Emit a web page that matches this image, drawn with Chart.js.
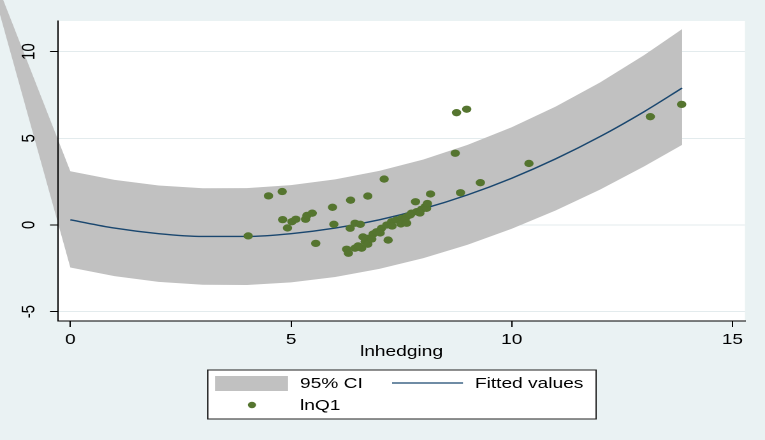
<!DOCTYPE html>
<html>
<head>
<meta charset="utf-8">
<script src="https://cdn.jsdelivr.net/npm/chart.js@4"></script>
<style>
  html, body { margin: 0; padding: 0; background: #eaf2f3; }
  #chart { display: block; }
</style>
</head>
<body>
<!-- the reference is a stretched export: draw at 600 wide, show at 765 -->
<canvas id="chart" width="600" height="440" style="width:765px;height:440px"></canvas>
<script>
// values
const xTicks = [0, 5, 10, 15];
const yTicks = [-5, 0, 5, 10];

// fitted quadratic and its 95% band
const fitX    = [0, 1, 2, 3, 4, 5, 6, 7, 8, 9, 10, 11, 12, 13, 13.86];
const fitY    = [0.30, -0.18, -0.50, -0.66, -0.66, -0.50, -0.18, 0.30, 0.94, 1.74, 2.70, 3.82, 5.10, 6.54, 7.90];
const ciUpper = [3.10, 2.60, 2.28, 2.12, 2.13, 2.30, 2.63, 3.12, 3.78, 4.62, 5.64, 6.84, 8.22, 9.80, 11.30];
const ciLower = [-2.45, -2.95, -3.28, -3.45, -3.46, -3.31, -3.00, -2.53, -1.91, -1.14, -0.22, 0.84, 2.04, 3.38, 4.62];
// the band in the original runs off to a stray vertex up and left
const ciTip = [-2.09, 16.68];

// scatter: lnhedging vs lnQ1
const lnhedging = [4.03, 4.49, 4.80, 4.81, 4.92, 5.02, 5.11, 5.33, 5.36, 5.48,
                   5.56, 5.94, 5.97, 6.35, 6.34, 6.45, 6.57, 6.74, 7.11, 6.26,
                   6.30, 6.45, 6.60, 6.68, 6.75, 6.74, 6.86, 6.94, 7.05, 7.17,
                   7.28, 7.39, 7.51, 7.62, 7.73, 7.85, 7.96, 8.04, 7.20, 7.82,
                   8.16, 8.07, 8.09, 8.72, 8.75, 8.98, 8.84, 9.29, 10.39, 13.14,
                   13.85, 7.58, 7.70, 6.52, 6.83, 7.02, 7.29, 7.49, 6.63, 7.92, 7.62];
const lnQ1 = [-0.63, 1.68, 1.93, 0.31, -0.17, 0.19, 0.33, 0.33, 0.55, 0.68,
              -1.06, 1.02, 0.04, 1.43, -0.19, 0.10, 0.04, 1.67, 2.65, -1.40,
              -1.63, -1.34, -1.34, -0.96, -0.77, -1.11, -0.52, -0.39, -0.19, 0.00,
              0.19, 0.29, 0.39, 0.48, 0.68, 0.77, 0.91, 1.06, -0.87, 1.34,
              1.79, 0.96, 1.24, 4.14, 6.48, 6.68, 1.86, 2.44, 3.55, 6.25,
              6.96, 0.29, 0.58, -1.21, -0.81, -0.46, -0.06, 0.06, -0.69, 0.69, 0.10];

const BG = '#eaf2f3';
const BAND = '#c1c1c1';
const NAVY = '#1a476f';
const GREEN = '#55752f';
const FONT = "'Liberation Sans', Arial, sans-serif";

const tip = { x: ciTip[0], y: ciTip[1] };
const bandPoints = [tip]
    .concat(fitX.map((x, i) => ({ x, y: ciUpper[i] })))
    .concat(fitX.map((x, i) => ({ x, y: ciLower[i] })).reverse())
    .concat([tip]);

// plot region fill + stata-style legend box
const frame = {
    id: 'frame',
    beforeDraw(chart) {
        const { ctx, chartArea: a } = chart;
        ctx.save();
        ctx.fillStyle = BG;
        ctx.fillRect(0, 0, chart.width, chart.height);
        ctx.fillStyle = '#fff';
        ctx.fillRect(a.left, a.top, a.right - a.left, a.bottom - a.top);
        ctx.restore();
    },
    // the filler clips to the chart area, the band here must not
    beforeDatasetsDraw(chart) {
        const pts = chart.getDatasetMeta(2).data;
        const ctx = chart.ctx;
        ctx.save();
        ctx.beginPath();
        pts.forEach((p, i) => (i ? ctx.lineTo(p.x, p.y) : ctx.moveTo(p.x, p.y)));
        ctx.closePath();
        ctx.fillStyle = BAND;
        ctx.fill();
        ctx.restore();
    },
    afterDraw(chart) {
        const ctx = chart.ctx;
        ctx.save();
        ctx.fillStyle = '#fff';
        ctx.fillRect(163, 370, 304.5, 49);
        ctx.strokeStyle = '#222';
        ctx.lineWidth = 1;
        ctx.strokeRect(163, 370, 304.5, 49);

        ctx.fillStyle = BAND;
        ctx.fillRect(168.6, 376, 57.3, 15);

        ctx.strokeStyle = NAVY;
        ctx.lineWidth = 1.3;
        ctx.beginPath();
        ctx.moveTo(307.5, 383);
        ctx.lineTo(363.1, 383);
        ctx.stroke();

        ctx.fillStyle = GREEN;
        ctx.beginPath();
        ctx.arc(197.6, 405, 3.2, 0, Math.PI * 2);
        ctx.fill();

        ctx.fillStyle = '#000';
        ctx.font = '15px ' + FONT;
        ctx.textBaseline = 'middle';
        ctx.textAlign = 'left';
        ctx.fillText('95% CI', 235.3, 384);
        ctx.fillText('Fitted values', 372.5, 384);
        ctx.fillText('lnQ1', 235.3, 406);
        ctx.restore();
    }
};

Chart.defaults.font.family = FONT;
Chart.defaults.font.size = 15;
Chart.defaults.color = '#000';

new Chart(document.getElementById('chart'), {
    type: 'scatter',
    data: {
        datasets: [
            {
                label: 'lnQ1',
                data: lnhedging.map((x, i) => ({ x, y: lnQ1[i] })),
                backgroundColor: GREEN,
                borderColor: GREEN,
                pointRadius: 3.65,
                pointBorderWidth: 0
            },
            {
                label: 'Fitted values',
                data: fitX.map((x, i) => ({ x, y: fitY[i] })),
                showLine: true,
                borderColor: NAVY,
                borderWidth: 1.4,
                pointRadius: 0,
                cubicInterpolationMode: 'monotone'
            },
            {
                // outline only; filled by the frame plugin from these points
                label: '95% CI',
                data: bandPoints,
                showLine: false,
                backgroundColor: BAND,
                borderColor: BAND,
                pointRadius: 0,
                clip: false
            }
        ]
    },
    options: {
        responsive: false,
        devicePixelRatio: 2,
        animation: false,
        layout: { padding: { left: 0, top: 21, right: 15.7, bottom: 69 } },
        plugins: {
            legend: { display: false },
            tooltip: { enabled: false }
        },
        scales: {
            x: {
                type: 'linear',
                min: -0.279,
                max: 15.285,
                afterBuildTicks: (s) => { s.ticks = xTicks.map(v => ({ value: v })); },
                afterFit: (s) => { s.height = 50; },
                grid: { drawOnChartArea: false, drawTicks: true, tickLength: 6, tickColor: '#000' },
                border: { display: true, color: '#000', width: 1 },
                ticks: { padding: 4, font: { size: 15 } },
                title: { display: true, text: 'lnhedging', font: { size: 15 }, padding: { top: 0, bottom: 10 } }
            },
            y: {
                type: 'linear',
                min: -5.54,
                max: 11.77,
                afterBuildTicks: (s) => { s.ticks = yTicks.map(v => ({ value: v })); },
                afterFit: (s) => { s.width = 45.5; },
                grid: { color: '#e3ebed', lineWidth: 1, drawTicks: true, tickLength: 6.3, tickColor: '#000' },
                border: { display: true, color: '#000', width: 1, z: 1 },
                ticks: { minRotation: 90, maxRotation: 90, crossAlign: 'center', padding: 8, z: 1, font: { size: 15 } }
            }
        }
    },
    plugins: [frame]
});
</script>
</body>
</html>
